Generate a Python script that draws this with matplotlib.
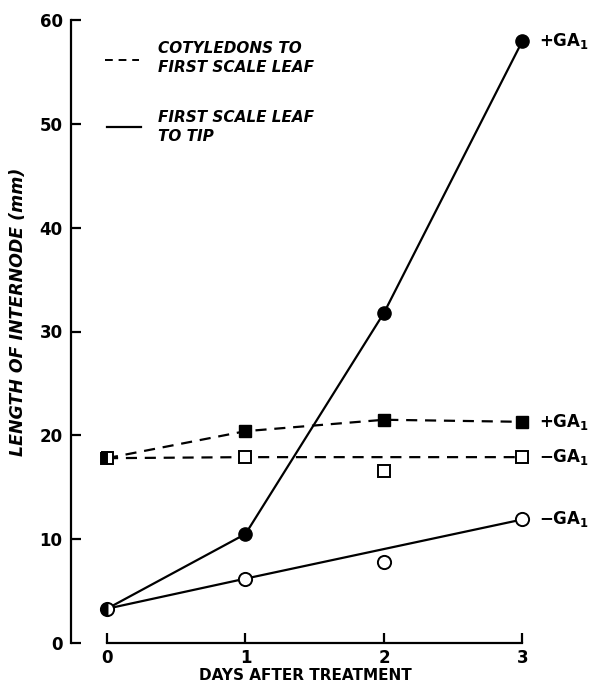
import matplotlib
matplotlib.use("Agg")
import matplotlib.pyplot as plt
import numpy as np

plt.rcParams['font.family'] = ['DejaVu Sans']
plt.rcParams['mathtext.default'] = 'bf'

days = [0, 1, 2, 3]
tip_plus = [3.3, 10.5, 31.8, 58.0]      # solid, filled circles
tip_minus = [3.3, 6.2, 7.8, 11.9]       # solid, open circles
cot_plus = [17.8, 20.4, 21.5, 21.3]     # dashed, filled squares
cot_minus = [17.8, 17.9, 16.6, 17.9]    # dashed, open squares
line_idx = [0, 1, 3]                    # points used for the straight lines of -GA1
yticks = [0, 10, 20, 30, 40, 50, 60]
xticks = [0, 1, 2, 3]
end_labels = ['+GA$_1$', '+GA$_1$', '\u2212GA$_1$', '\u2212GA$_1$']

W, H = 590, 687
fig = plt.figure(figsize=(W / 100, H / 100), dpi=100)
px_per_day = 138.5
x_left_px, x_right_px = 71, 575
xl = (x_left_px - 107) / px_per_day
xr = (x_right_px - 107) / px_per_day
y_bot_px, y_top_px = 643, 20
ax = fig.add_axes([x_left_px / W, (H - y_bot_px) / H,
                   (x_right_px - x_left_px) / W, (y_bot_px - y_top_px) / H])
ax.set_xlim(xl, xr)
ax.set_ylim(0, 60)
for s in ['top', 'right']:
    ax.spines[s].set_visible(False)
ax.spines['left'].set_bounds(0, 60)
ax.spines['bottom'].set_bounds(0, 3)
ax.spines['left'].set_linewidth(1.6)
ax.spines['bottom'].set_linewidth(1.6)
ax.set_xticks(xticks)
ax.set_yticks(yticks)
ax.set_xticklabels([str(t) for t in xticks])
ax.set_yticklabels([str(t) for t in yticks])
ax.tick_params(direction='in', length=7, width=1.6, labelsize=12)
ax.tick_params(axis='x', pad=4)
ax.tick_params(axis='y', pad=6)
for lab in ax.get_xticklabels() + ax.get_yticklabels():
    lab.set_fontweight('bold')

lw = 1.6
dash = (0, (5, 3.5))
ms_c = 9.5
ms_s = 8.5

d = np.array(days)
# solid +GA1
ax.plot(d, tip_plus, '-', color='black', lw=lw, zorder=2)
ax.plot(d[1:], tip_plus[1:], 'o', ms=ms_c, color='black', zorder=3, ls='none')
# solid -GA1 (straight line)
ax.plot(d[line_idx], np.array(tip_minus)[line_idx], '-', color='black', lw=lw, zorder=2)
ax.plot(d[1:], tip_minus[1:], 'o', ms=ms_c, mfc='white', mec='black', mew=1.4, zorder=3, ls='none')
ax.plot(d[:1], tip_plus[:1], 'o', ms=ms_c, fillstyle='left', mfc='black', mfcalt='white',
        mec='black', mew=1.4, zorder=4, ls='none')

# dashed +GA1
ax.plot(d, cot_plus, color='black', lw=lw, ls=dash, zorder=2)
ax.plot(d[1:], cot_plus[1:], 's', ms=ms_s, color='black', zorder=3, ls='none')
# dashed -GA1
ax.plot(d[line_idx], np.array(cot_minus)[line_idx], color='black', lw=lw, ls=dash, zorder=2)
ax.plot(d[1:], cot_minus[1:], 's', ms=ms_s, mfc='white', mec='black', mew=1.4, zorder=3, ls='none')
ax.plot(d[:1], cot_plus[:1], 's', ms=ms_s, fillstyle='left', mfc='black', mfcalt='white',
        mec='black', mew=1.4, zorder=4, ls='none')

# end labels
ends = [tip_plus[-1], cot_plus[-1], cot_minus[-1], tip_minus[-1]]
for yv, lab in zip(ends, end_labels):
    ax.annotate(lab, (3, yv), xytext=(12, 0), textcoords='offset points',
                ha='left', va='center', fontsize=12, fontweight='bold')

def px(x, y):
    return x / W, 1 - y / H

fig.add_artist(plt.Line2D([px(105, 0)[0], px(139, 0)[0]], [px(0, 60)[1]] * 2,
                          color='black', lw=1.4, ls=(0, (4, 3))))
fig.add_artist(plt.Line2D([px(107, 0)[0], px(141, 0)[0]], [px(0, 127)[1]] * 2,
                          color='black', lw=1.6))
tkw = dict(fontsize=11, fontstyle='italic', fontweight='bold', ha='left', va='center',
           linespacing=1.35)
fig.text(*px(158, 58), 'COTYLEDONS TO\nFIRST SCALE LEAF', **tkw)
fig.text(*px(158, 127), 'FIRST SCALE LEAF\nTO TIP', **tkw)

fig.text(*px(18, 312), 'LENGTH OF INTERNODE (mm)', rotation=90, ha='center', va='center',
         fontsize=12.5, fontstyle='italic', fontweight='bold')
fig.text(*px(305, 676), 'DAYS AFTER TREATMENT', ha='center', va='center',
         fontsize=11, fontweight='bold')

fig.savefig('out.png', dpi=100)
